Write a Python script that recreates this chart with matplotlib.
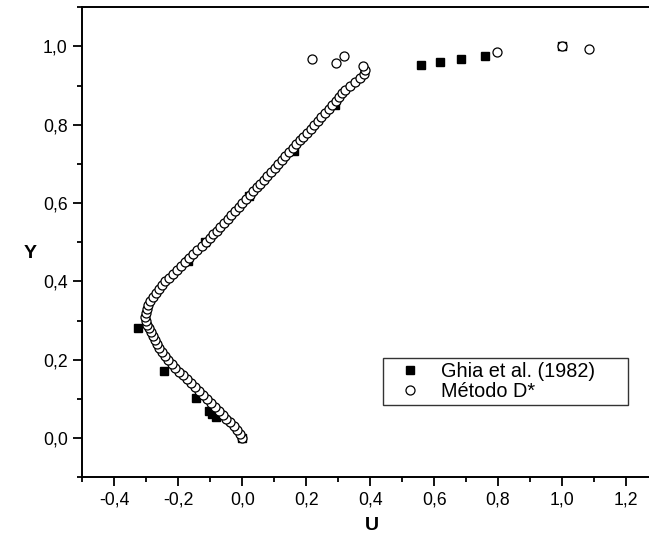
import matplotlib
matplotlib.use('Agg')
import matplotlib.pyplot as plt
from matplotlib.ticker import FixedLocator, MultipleLocator

plt.rcParams['font.family'] = ['Liberation Sans', 'DejaVu Sans']

# Ghia et al. (1982) values
ghia_u = [1.0, 0.758, 0.684, 0.618, 0.559, 0.291, 0.163, 0.021, -0.115,
          -0.171, -0.327, -0.243, -0.146, -0.103, -0.093, -0.082, 0.0]
ghia_y = [1.0, 0.9766, 0.9688, 0.9609, 0.9531, 0.8516, 0.7344, 0.6172, 0.5,
          0.4531, 0.2813, 0.1719, 0.1016, 0.0703, 0.0625, 0.0547, 0.0]

# Metodo D* values
d_y = [0.00, 0.01, 0.02, 0.03, 0.04, 0.05, 0.06, 0.07, 0.08, 0.09,
       0.10, 0.11, 0.12, 0.13, 0.14, 0.15, 0.16, 0.17, 0.18, 0.19,
       0.20, 0.21, 0.22, 0.23, 0.24, 0.25, 0.26, 0.27, 0.28, 0.29,
       0.30, 0.31, 0.32, 0.33, 0.34, 0.35, 0.36, 0.37, 0.38, 0.39,
       0.40, 0.41, 0.42, 0.43, 0.44, 0.45, 0.46, 0.47, 0.48, 0.49,
       0.50, 0.51, 0.52, 0.53, 0.54, 0.55, 0.56, 0.57, 0.58, 0.59,
       0.60, 0.61, 0.62, 0.63, 0.64, 0.65, 0.66, 0.67, 0.68, 0.69,
       0.70, 0.71, 0.72, 0.73, 0.74, 0.75, 0.76, 0.77, 0.78, 0.79,
       0.80, 0.81, 0.82, 0.83, 0.84, 0.85, 0.86, 0.87, 0.88, 0.89,
       0.90, 0.91, 0.92, 0.93, 0.94, 0.949,
       0.957, 0.967, 0.976, 0.985, 1.0, 0.993]
d_u = [0.000, -0.008, -0.017, -0.027, -0.038, -0.050, -0.061, -0.073, -0.085, -0.098,
       -0.110, -0.122, -0.134, -0.147, -0.160, -0.172, -0.185, -0.198, -0.209, -0.220,
       -0.231, -0.241, -0.250, -0.259, -0.266, -0.273, -0.280, -0.286, -0.292, -0.297,
       -0.301, -0.303, -0.302, -0.299, -0.294, -0.288, -0.280, -0.271, -0.261, -0.251,
       -0.240, -0.229, -0.217, -0.205, -0.192, -0.179, -0.166, -0.153, -0.140, -0.126,
       -0.113, -0.101, -0.090, -0.079, -0.068, -0.056, -0.045, -0.034, -0.023, -0.011,
       0.000, 0.011, 0.023, 0.034, 0.045, 0.056, 0.068, 0.079, 0.090, 0.101,
       0.113, 0.124, 0.135, 0.146, 0.158, 0.169, 0.180, 0.191, 0.203, 0.214,
       0.225, 0.236, 0.247, 0.259, 0.270, 0.281, 0.292, 0.303, 0.313, 0.323,
       0.336, 0.352, 0.368, 0.380, 0.384, 0.377,
       0.293, 0.218, 0.317, 0.796, 1.0, 1.084]

xticks = [-0.4, -0.2, 0.0, 0.2, 0.4, 0.6, 0.8, 1.0, 1.2]
xtick_labels = ['-0,4', '-0,2', '0,0', '0,2', '0,4', '0,6', '0,8', '1,0', '1,2']
yticks = [0.0, 0.2, 0.4, 0.6, 0.8, 1.0]
ytick_labels = ['0,0', '0,2', '0,4', '0,6', '0,8', '1,0']

fig = plt.figure(figsize=(6.49, 5.42), dpi=100)
ax = fig.add_axes([0.1268, 0.1194, 0.8732, 0.8671])

ax.plot(ghia_u, ghia_y, 's', color='black', markersize=6, label='Ghia et al. (1982)', clip_on=False)
ax.plot(d_u, d_y, 'o', markerfacecolor='white', markeredgecolor='black',
        markersize=6.5, markeredgewidth=0.9, label='Método D*', clip_on=False)

ax.set_xlim(-0.5, 1.272)
ax.set_ylim(-0.1, 1.1)

ax.xaxis.set_major_locator(FixedLocator(xticks))
ax.set_xticklabels(xtick_labels)
ax.yaxis.set_major_locator(FixedLocator(yticks))
ax.set_yticklabels(ytick_labels)
ax.xaxis.set_minor_locator(MultipleLocator(0.1))
ax.yaxis.set_minor_locator(MultipleLocator(0.1))

ax.tick_params(which='major', direction='out', length=6.5, width=1.3, labelsize=12.7, pad=4)
ax.tick_params(which='minor', direction='out', length=3.4, width=1.3)
ax.tick_params(top=False, right=False)

for side in ['left', 'bottom', 'top']:
    ax.spines[side].set_linewidth(1.4)
ax.spines['right'].set_visible(False)

ax.set_xlabel('U', fontsize=14, fontweight='bold')
ax.set_ylabel('Y', fontsize=14, fontweight='bold', rotation=0, va='center')
ax.xaxis.set_label_coords(0.511, -0.085)
ax.yaxis.set_label_coords(-0.092, 0.477)

leg = ax.legend(loc='upper left', bbox_to_anchor=(0.5306, 0.1538, 0.4325, 0.10), mode='expand',
                borderaxespad=0, fontsize=14.3, frameon=True, fancybox=False, edgecolor='black',
                handletextpad=0.43, borderpad=0.2, labelspacing=0.05, handlelength=2.3)
leg.get_frame().set_linewidth(1.0)

fig.savefig('out.png', dpi=100)
